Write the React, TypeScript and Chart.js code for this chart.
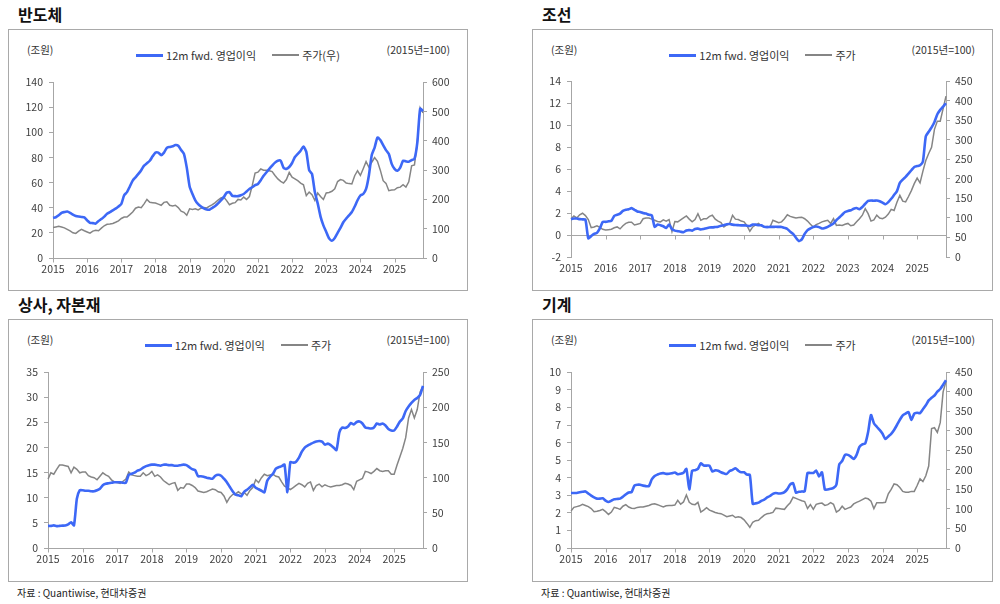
import React, { useEffect, useRef } from 'react';
import { Chart, registerables } from 'chart.js';

Chart.register(...registerables);

// Monthly categories: Jan 2015 .. Nov 2025
const MONTHS: string[] = [];
for (let y = 2015; y <= 2025; y++) {
  for (let m = 1; m <= 12; m++) {
    if (y === 2025 && m > 11) break;
    MONTHS.push(`${y}-${m < 10 ? '0' + m : m}`);
  }
}

const OP_LABEL = '12m fwd. 영업이익';

// 반도체
const SEMI_OP = [
  32, 32.5, 34, 36, 36.6, 37, 36, 34.5, 33.5, 33, 32.7, 32.3,
  30, 28, 27.8, 27.4, 29.5, 31, 33, 35.3, 36.5, 38, 39.3, 41,
  43, 50, 52.5, 57, 61.7, 64.3, 67, 70, 73.6, 75.5, 77.5, 81,
  84, 84, 82, 84, 87.8, 88.5, 89, 90, 89.5, 86, 83, 72,
  57, 51, 46, 43, 41, 39.5, 38.7, 38.5, 40, 41.5, 43.5, 46,
  48.5, 52, 52.5, 49.5, 49.3, 49.3, 50, 51, 53, 55, 56.4, 58,
  59, 62, 65.5, 68.3, 71, 73.6, 76, 77.5, 77.5, 72, 71, 72.5,
  75.7, 80.5, 83, 85.5, 88.8, 84.6, 70, 67, 52.5, 43.5, 33, 26,
  20.8, 15.6, 13.7, 16, 20, 24, 28.5, 31.4, 34, 36.6, 41, 46,
  49.8, 51, 55, 66, 82, 88, 96, 94, 90, 86, 82.8, 75,
  71, 69.6, 72, 77.5, 77, 76.7, 78, 79, 92, 119, 117,
];
const SEMI_PRICE = [
  104, 106, 108, 106, 103, 98, 93, 86, 84, 92, 98, 93,
  89, 85, 92, 95, 93, 102, 110, 115, 116, 118, 122, 127,
  135, 140, 140, 148, 157, 170, 174, 172, 185, 200, 190, 189,
  188, 184, 180, 190, 192, 180, 178, 180, 172, 160, 156, 146,
  168, 166, 168, 164, 170, 172, 171, 177, 182, 189, 198, 205,
  208, 196, 182, 187, 189, 200, 198, 208, 200, 210, 247, 290,
  293, 304, 300, 300, 298, 295, 282, 270, 262, 256, 268, 292,
  276, 270, 264, 256, 250, 213, 225, 216, 197, 222, 210, 200,
  222, 224, 228, 236, 261, 268, 265, 256, 254, 253, 281, 298,
  282, 305, 329, 310, 327, 343, 330, 300, 264, 255, 230, 232,
  233, 240, 242, 250, 242, 260, 315, 318, 394, 513, 496,
];

// 조선
const SHIP_OP = [
  1.45, 1.5, 1.5, 1.45, 1.43, 1.4, -0.3, -0.1, 0.1, 0.2, 0.6, 1.2,
  1.2, 1.25, 1.3, 1.75, 1.85, 1.95, 2.2, 2.3, 2.35, 2.45, 2.3, 2.15,
  2.1, 2.0, 1.95, 1.85, 1.8, 0.75, 0.95, 0.9, 0.8, 0.65, 0.95, 0.55,
  0.4, 0.35, 0.3, 0.26, 0.42, 0.45, 0.4, 0.55, 0.58, 0.5, 0.55, 0.62,
  0.68, 0.7, 0.73, 0.76, 0.85, 0.9, 0.98, 1.0, 0.95, 0.92, 0.9, 0.88,
  0.88, 0.85, 0.83, 0.95, 0.95, 0.9, 0.88, 0.75, 0.72, 0.74, 0.74, 0.75,
  0.74, 0.74, 0.65, 0.55, 0.3, 0.1, -0.25, -0.55, -0.4, 0.1, 0.45, 0.6,
  0.74, 0.78, 0.72, 0.6, 0.65, 0.75, 0.9, 1.05, 1.35, 1.6, 1.85, 2.1,
  2.2, 2.25, 2.4, 2.46, 2.35, 2.55, 2.85, 3.1, 3.15, 3.12, 3.15, 3.08,
  2.95, 2.8, 3.0, 3.3, 3.65, 4.0, 4.75, 5.05, 5.3, 5.6, 5.9, 6.2,
  6.28, 6.35, 6.7, 9.0, 9.4, 9.8, 10.3, 11.0, 11.4, 11.7, 12.0,
];
const SHIP_PRICE = [
  97, 105, 100, 108, 112, 106, 96, 75, 77, 80, 76, 71,
  69, 70, 71, 75, 77, 72, 80, 86, 89, 89, 82, 84,
  86, 98, 100, 100, 97, 94, 91, 90, 95, 92, 96, 65,
  91, 90, 95, 100, 105, 97, 90, 96, 111, 94, 98, 98,
  104, 107, 97, 92, 88, 77, 82, 86, 107, 97, 96, 92,
  90, 80, 66, 77, 82, 86, 80, 77, 78, 77, 94, 91,
  88, 90, 98, 108, 104, 102, 100, 101, 102, 98, 92, 84,
  77, 83, 86, 90, 92, 94, 86, 98, 81, 82, 81, 84,
  86, 80, 82, 90, 98, 107, 124, 111, 92, 95, 107, 100,
  98, 102, 110, 122, 119, 140, 158, 143, 141, 155, 170, 188,
  202, 190, 220, 247, 265, 281, 327, 348, 348, 380, 412,
];

// 상사, 자본재
const TRADE_OP = [
  4.4, 4.4, 4.5, 4.35, 4.4, 4.45, 4.5, 4.7, 5.1, 4.5, 9.8, 11.5,
  11.5, 11.4, 11.4, 11.3, 11.3, 11.5, 11.8, 12.5, 12.8, 12.9, 13.0, 13.1,
  13.1, 13.1, 13.0, 13.0, 14.6, 14.8, 15.0, 15.4, 15.6, 16.0, 16.3, 16.5,
  16.6, 16.6, 16.5, 16.4, 16.6, 16.6, 16.5, 16.5, 16.4, 16.4, 16.5, 16.6,
  16.5, 16.1, 15.7, 15.5, 14.3, 14.3, 14.2, 14.0, 13.9, 13.8, 14.4, 14.6,
  14.4, 13.8, 13.1, 12.2, 11.3, 10.6, 10.5, 10.3, 11.2, 11.6, 12.1, 12.6,
  12.0, 11.7, 11.4, 11.1, 13.4, 14.2, 14.8, 15.8, 16.1, 16.3, 16.6, 11.1,
  17.1, 17.0, 17.2, 18.0, 19.2, 20.0, 20.4, 20.7, 21.0, 21.2, 21.3, 21.2,
  20.6, 20.8, 20.5, 20.0, 19.5, 23.0, 24.0, 23.9, 24.2, 24.9, 24.6, 25.1,
  25.2, 24.8, 24.0, 23.9, 23.8, 24.0, 24.8, 24.6, 24.8, 24.4, 23.7, 23.4,
  23.4, 24.2, 25.2, 25.8, 27.3, 28.2, 28.9, 29.5, 29.9, 30.5, 32.3,
];
const TRADE_PRICE = [
  98, 107, 105, 112, 118, 118, 117, 116, 107, 115, 112, 107,
  108, 108, 103, 101, 100, 97, 102, 107, 104, 102, 97, 94,
  93, 92, 95, 98, 108, 104, 103, 102, 102, 107, 103, 105,
  109, 102, 104, 101, 96, 93, 90, 92, 93, 82, 86, 85,
  91, 91, 89, 86, 81, 80, 79, 80, 82, 84, 83, 80,
  79, 74, 65, 72, 76, 77, 80, 77, 79, 75, 82, 86,
  97, 93, 100, 105, 103, 104, 105, 102, 101, 94, 88, 86,
  83, 86, 89, 92, 90, 87, 92, 94, 82, 89, 91, 87,
  90, 88, 87, 88, 89, 89, 90, 92, 91, 89, 83, 95,
  97, 99, 109, 108, 106, 109, 113, 110, 109, 110, 110, 105,
  105, 118, 130, 142, 157, 185, 197, 185, 197, 222, 230,
];

// 기계
const MACH_OP = [
  3.13, 3.13, 3.13, 3.17, 3.2, 3.22, 3.1, 2.98, 2.88, 2.81, 2.81, 2.83,
  2.7, 2.62, 2.7, 2.77, 2.79, 2.81, 2.92, 3.05, 3.16, 3.18, 3.56, 3.6,
  3.6, 3.55, 3.52, 3.52, 3.9, 4.1, 4.18, 4.24, 4.26, 4.22, 4.23, 4.26,
  4.3, 4.2, 4.22, 4.28, 4.5, 3.33, 4.4, 4.43, 4.5, 4.82, 4.7, 4.69,
  4.69, 4.35, 4.42, 4.4, 4.31, 4.25, 4.22, 4.38, 4.45, 4.54, 4.4, 4.31,
  4.31, 4.18, 4.16, 2.52, 2.54, 2.58, 2.68, 2.75, 2.88, 2.96, 3.08, 3.13,
  3.1, 3.12, 3.18, 3.35, 3.62, 3.69, 3.15, 3.2, 3.22, 3.22, 4.27, 4.27,
  4.27, 4.41, 4.07, 4.31, 3.33, 3.33, 3.37, 3.42, 3.6, 4.76, 4.95, 5.3,
  5.3, 5.2, 5.07, 5.3, 5.75, 5.9, 5.95, 6.6, 7.57, 7.1, 6.9, 6.72,
  6.5, 6.2, 6.35, 6.5, 6.72, 7.0, 7.3, 7.55, 7.65, 7.74, 7.29, 7.65,
  7.7, 7.68, 7.9, 8.12, 8.4, 8.55, 8.68, 8.9, 9.05, 9.3, 9.55,
];
const MACH_PRICE = [
  95, 104, 106, 108, 112, 109, 106, 101, 93, 94, 96, 99,
  93, 86, 92, 104, 102, 99, 107, 111, 105, 102, 101, 104,
  105, 105, 107, 109, 112, 113, 111, 108, 105, 108, 109, 109,
  110, 122, 112, 118, 136, 117, 112, 111, 117, 92, 97, 103,
  97, 94, 91, 89, 88, 84, 80, 82, 84, 78, 80, 78,
  72, 63, 53, 66, 70, 71, 78, 84, 88, 89, 91, 102,
  101, 100, 99, 108, 116, 130, 127, 124, 121, 119, 101, 111,
  99, 112, 114, 115, 109, 111, 116, 112, 92, 97, 107, 99,
  102, 105, 113, 117, 120, 124, 128, 126, 120, 101, 116, 116,
  116, 117, 139, 150, 164, 162, 155, 145, 143, 143, 145, 145,
  160, 177, 170, 185, 210, 306, 308, 296, 321, 400, 427,
];

const BLUE = '#3d68f6';
const GRAY = '#858585';
const AXIS = '#a6a6a6';
const TICK_TEXT = '#404040';
const FONT = "'Noto Sans CJK KR', 'Noto Sans', sans-serif";

type Rect = [number, number, number, number]; // left, top, right, bottom

interface PanelCfg {
  title: string;
  box: Rect;
  area: Rect;
  op: number[];
  price: number[];
  priceLabel: string;
  left: [number, number, number];
  right: [number, number, number];
  source: boolean;
}

const PANELS: PanelCfg[] = [
  { title: '반도체', box: [8, 29, 468, 291], area: [53, 81, 423, 258], op: SEMI_OP, price: SEMI_PRICE, priceLabel: '주가(우)', left: [0, 140, 20], right: [0, 600, 100], source: false },
  { title: '조선', box: [532, 29, 993, 291], area: [571, 80, 946, 257], op: SHIP_OP, price: SHIP_PRICE, priceLabel: '주가', left: [-2, 14, 2], right: [0, 450, 50], source: false },
  { title: '상사, 자본재', box: [8, 319, 468, 582], area: [48, 371, 423, 548], op: TRADE_OP, price: TRADE_PRICE, priceLabel: '주가', left: [0, 35, 5], right: [0, 250, 50], source: true },
  { title: '기계', box: [532, 319, 993, 582], area: [571, 371, 946, 548], op: MACH_OP, price: MACH_PRICE, priceLabel: '주가', left: [0, 10, 1], right: [0, 450, 50], source: true },
];

const AXW = 45; // y-axis widths
const PADTOP = 11;
const XAXH = 20;

const axisLinePlugin = {
  id: 'axisLine',
  beforeDatasetsDraw(chart: any) {
    const { ctx, chartArea, scales } = chart;
    const y = Math.round(scales.y.getPixelForValue(0)) + 0.5;
    ctx.save();
    ctx.strokeStyle = AXIS;
    ctx.lineWidth = 1;
    ctx.beginPath();
    ctx.moveTo(chartArea.left, y);
    ctx.lineTo(chartArea.right, y);
    for (let i = 0; i < MONTHS.length; i += 12) {
      const x = Math.round(scales.x.getPixelForValue(i)) + 0.5;
      ctx.moveTo(x, y);
      ctx.lineTo(x, y + 4);
    }
    ctx.stroke();
    ctx.restore();
  },
};

function ChartPanel({ cfg }: { cfg: PanelCfg }) {
  const ref = useRef<HTMLCanvasElement | null>(null);
  useEffect(() => {
    if (!ref.current) return;
    const tickFont = { family: FONT, size: 10.5 };
    const chart = new Chart(ref.current, {
      type: 'line',
      data: {
        labels: MONTHS,
        datasets: [
          { label: OP_LABEL, data: cfg.op, yAxisID: 'y', borderColor: BLUE, backgroundColor: BLUE, borderWidth: 2.6, pointRadius: 0, tension: 0.2 },
          { label: cfg.priceLabel, data: cfg.price, yAxisID: 'y1', borderColor: GRAY, backgroundColor: GRAY, borderWidth: 1.5, pointRadius: 0, tension: 0 },
        ],
      },
      options: {
        animation: false,
        responsive: true,
        maintainAspectRatio: false,
        events: [],
        layout: { padding: { top: PADTOP, left: 0, right: 0, bottom: 0 } },
        plugins: { legend: { display: false }, tooltip: { enabled: false } },
        scales: {
          x: {
            type: 'category',
            grid: { display: false, drawTicks: false },
            border: { display: false },
            ticks: {
              autoSkip: false,
              maxRotation: 0,
              minRotation: 0,
              padding: 5,
              color: TICK_TEXT,
              font: tickFont,
              callback: (_v: any, i: number) => (i % 12 === 0 ? MONTHS[i].slice(0, 4) : null),
            },
            afterFit: (s: any) => { s.height = XAXH; },
          },
          y: {
            position: 'left',
            min: cfg.left[0],
            max: cfg.left[1],
            ticks: { stepSize: cfg.left[2], color: TICK_TEXT, font: tickFont, padding: 6 },
            grid: { drawOnChartArea: false, tickLength: 4, color: AXIS },
            border: { color: AXIS },
            afterFit: (s: any) => { s.width = AXW; },
          },
          y1: {
            position: 'right',
            min: cfg.right[0],
            max: cfg.right[1],
            ticks: { stepSize: cfg.right[2], color: TICK_TEXT, font: tickFont, padding: 5 },
            grid: { drawOnChartArea: false, tickLength: 4, color: AXIS },
            border: { color: AXIS },
            afterFit: (s: any) => { s.width = AXW; },
          },
        },
      } as any,
      plugins: [axisLinePlugin],
    });
    return () => chart.destroy();
  }, [cfg]);

  const [bl, bt, br, bb] = cfg.box;
  const [al, at, ar, ab] = cfg.area;
  const cLeft = al - AXW;
  const cTop = at - PADTOP;
  const cW = ar - al + 2 * AXW;
  const cH = ab - at + PADTOP + XAXH;
  const small: React.CSSProperties = { position: 'absolute', fontSize: 10.5, color: '#333', whiteSpace: 'nowrap', lineHeight: '14px' };

  return (
    <>
      <div style={{ position: 'absolute', left: bl + 10, top: bt - 25, fontSize: 16, fontWeight: 700, color: '#111', lineHeight: '20px', whiteSpace: 'nowrap' }}>{cfg.title}</div>
      <div style={{ position: 'absolute', left: bl, top: bt, width: br - bl, height: bb - bt, border: '1px solid #a9a9a9', boxSizing: 'border-box' }} />
      <div style={{ ...small, left: bl + 19, top: bt + 14 }}>(조원)</div>
      <div style={{ ...small, right: 1000 - (br - 18), top: bt + 14 }}>(2015년=100)</div>
      <div style={{ ...small, fontSize: 11, left: bl, width: br - bl, top: bt + 19, display: 'flex', justifyContent: 'center', alignItems: 'center' }}>
        <span style={{ display: 'inline-block', width: 27, height: 0, borderTop: `3px solid ${BLUE}`, marginRight: 3 }} />
        <span>{OP_LABEL}</span>
        <span style={{ display: 'inline-block', width: 27, height: 0, borderTop: `2px solid ${GRAY}`, marginLeft: 16, marginRight: 3 }} />
        <span>{cfg.priceLabel}</span>
      </div>
      <div style={{ position: 'absolute', left: cLeft, top: cTop, width: cW, height: cH }}>
        <canvas ref={ref} />
      </div>
      {cfg.source && (
        <div style={{ ...small, fontSize: 10, left: bl + 9, top: bb + 4, color: '#222' }}>자료 : Quantiwise, 현대차증권</div>
      )}
    </>
  );
}

export default function App() {
  return (
    <div style={{ position: 'absolute', left: 0, top: 0, width: 1000, height: 604, background: '#fff', fontFamily: FONT, overflow: 'hidden' }}>
      {PANELS.map((p) => (
        <ChartPanel key={p.title} cfg={p} />
      ))}
    </div>
  );
}
